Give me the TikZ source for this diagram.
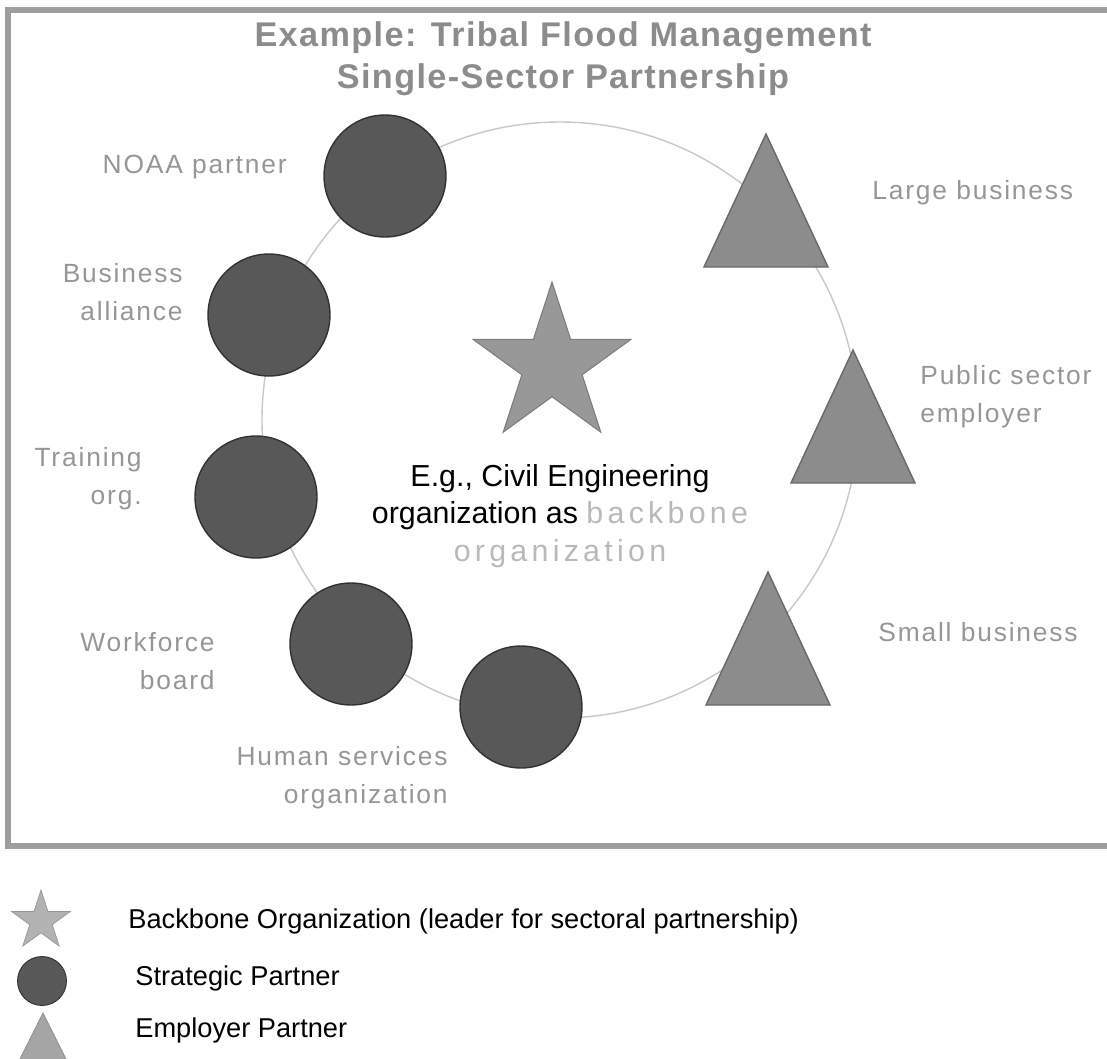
\documentclass[tikz,border=0pt]{standalone}
\usepackage{fontspec}
\setmainfont{Liberation Sans}
\newfontfamily\lblfont[LetterSpace=7]{Liberation Sans}
\newfontfamily\ttlfont[LetterSpace=4]{Liberation Sans}
\newfontfamily\bbfont[LetterSpace=14]{Liberation Sans}
\usetikzlibrary{shapes.geometric}
\definecolor{framegray}{RGB}{158,158,158}
\definecolor{titlegray}{RGB}{140,140,140}
\definecolor{labelgray}{RGB}{150,150,150}
\definecolor{ringgray}{RGB}{200,200,200}
\definecolor{partnerfill}{RGB}{88,88,88}
\definecolor{partneredge}{RGB}{50,50,50}
\definecolor{employerfill}{RGB}{140,140,140}
\definecolor{employeredge}{RGB}{105,105,105}
\definecolor{backbonefill}{RGB}{152,152,152}
\definecolor{backboneedge}{RGB}{125,125,125}
\definecolor{backbonegray}{RGB}{185,185,185}
\definecolor{keystarfill}{RGB}{178,178,178}
\definecolor{keytrifill}{RGB}{165,165,165}
\tikzset{
  partner/.style={circle, fill=partnerfill, draw=partneredge, line width=0.8pt,
    minimum size=2.44cm, inner sep=0pt},
  employer/.style={fill=employerfill, draw=employeredge, line width=0.8pt},
  backbone/.style={star, star points=5, star point ratio=2.618, inner sep=0pt},
  lbl/.style={text=labelgray, font=\lblfont\fontsize{15}{21.5}\selectfont, inner sep=0pt},
  keytext/.style={anchor=west, font=\fontsize{15.5}{18}\selectfont, inner sep=0pt},
}
\begin{document}
\begin{tikzpicture}[x=0.02cm, y=-0.02cm]
    \useasboundingbox (0,0) rectangle (1107,1059);
    \draw [framegray, line width=3.5pt] (8,10) rectangle (1125,846);
    \node [titlegray, font=\ttlfont\bfseries\fontsize{19.5}{23.8}\selectfont, align=center]
      (title) at (563,59) {Example: Tribal Flood Management\\Single-Sector Partnership};

    \coordinate (hub) at (560,420);
    \draw [ringgray, line width=0.8pt] (hub) circle [radius=298];

    \node [backbone, minimum size=3.32cm, fill=backbonefill, draw=backboneedge, line width=0.6pt]
      (lead) at (552,365) {};
    \node [font=\fontsize{17.3}{21.5}\selectfont, align=center, inner sep=0pt] (leadtext) at (560,516)
      {E.g., Civil Engineering\\organization as {\bbfont\color{backbonegray}backbone}\\
       {\bbfont\color{backbonegray}organization}};

    \node [partner] (noaa) at (385,176) {};
    \node [partner] (alliance) at (269,315) {};
    \node [partner] (training) at (256,497) {};
    \node [partner] (workforce) at (351,644) {};
    \node [partner] (human) at (521,707) {};

    \filldraw [employer] (766,134) coordinate (large) -- ++(62,133) -- ++(-124,0) -- cycle;
    \filldraw [employer] (853,350) coordinate (public) -- ++(62,133) -- ++(-124,0) -- cycle;
    \filldraw [employer] (768,572) coordinate (small) -- ++(62,133) -- ++(-124,0) -- cycle;

    \node [lbl, anchor=east] (noaalbl) at (287,167) {NOAA partner};
    \node [lbl, anchor=east, align=right] (alliancelbl) at (183,292) {Business\\alliance};
    \node [lbl, anchor=east, align=right] (traininglbl) at (142,479) {Training\\org.};
    \node [lbl, anchor=east, align=right] (workforcelbl) at (215,661) {Workforce\\board};
    \node [lbl, anchor=east, align=right] (humanlbl) at (448,778) {Human services\\organization};
    \node [lbl, anchor=west] (largelbl) at (872,193) {Large business};
    \node [lbl, anchor=west, align=left] (publiclbl) at (920,397) {Public sector\\employer};
    \node [lbl, anchor=west] (smalllbl) at (878,632) {Small business};

    \node [backbone, minimum size=1.24cm, fill=keystarfill, draw=keystarfill!85!black, line width=0.4pt]
      (keystar) at (41,921) {};
    \node [partner, minimum size=0.98cm, line width=0.5pt] (keycircle) at (42,981) {};
    \filldraw [fill=keytrifill, draw=keytrifill!85!black, line width=0.4pt]
      (43,1013) coordinate (keytri) -- ++(28,56) -- ++(-56,0) -- cycle;
    \node [keytext] (keystarlbl) at (128,921) {Backbone Organization (leader for sectoral partnership)};
    \node [keytext] (keycirclelbl) at (135,978) {Strategic Partner};
    \node [keytext] (keytrilbl) at (135,1030) {Employer Partner};
\end{tikzpicture}
\end{document}
